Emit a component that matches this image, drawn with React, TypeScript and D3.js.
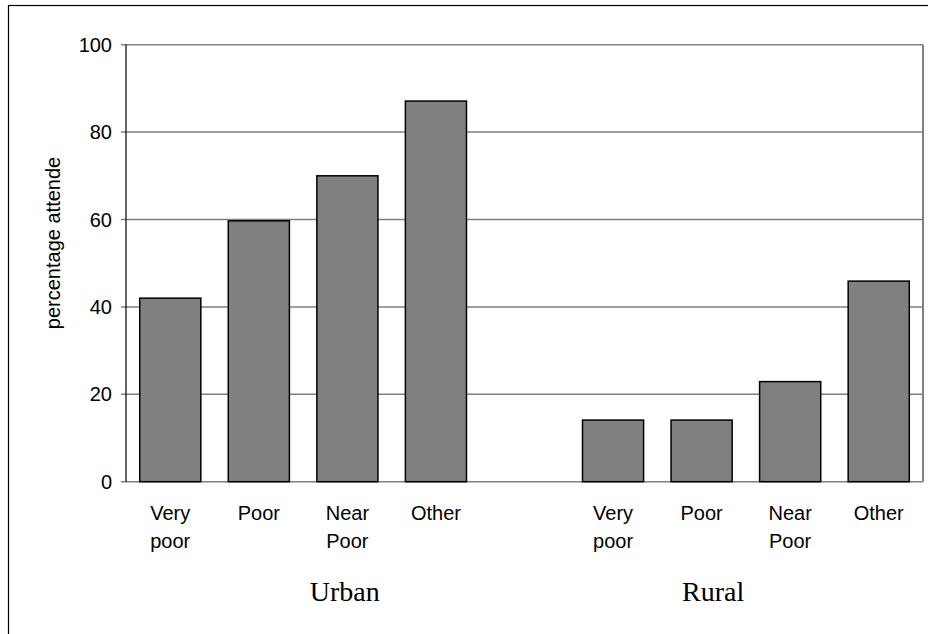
import React from "react";
import * as d3 from "d3";

const groups = ["Urban", "Rural"];
const categories = ["Very poor", "Poor", "Near Poor", "Other"];
const urbanValues = [42, 59.7, 70, 87.1];
const ruralValues = [14.1, 14.1, 22.9, 45.9];
const yTicks = [0, 20, 40, 60, 80, 100];
const yLabel = "percentage attende";
const groupLabelSlots = [2.47, 6.63];

const W = 928;
const H = 634;
const M = { left: 126, right: 5, top: 44.7, bottom: 152.3 };

type Row = { key: string; group: string; cat: string; value: number | null };

const rows: Row[] = [
  ...categories.map((c, i) => ({ key: `U-${c}`, group: groups[0], cat: c, value: urbanValues[i] })),
  { key: "gap", group: "", cat: "", value: null },
  ...categories.map((c, i) => ({ key: `R-${c}`, group: groups[1], cat: c, value: ruralValues[i] })),
];

export default function App() {
  const x = d3
    .scaleBand<string>()
    .domain(rows.map((r) => r.key))
    .range([M.left, W - M.right])
    .paddingInner(0.31)
    .paddingOuter(0.155);
  const y = d3.scaleLinear().domain([0, 100]).range([H - M.bottom, M.top]);
  const slot = d3
    .scaleLinear()
    .domain([0, rows.length])
    .range([M.left, W - M.right]);

  const sans = "'Liberation Sans', Arial, sans-serif";
  const serif = "'Liberation Serif', 'Times New Roman', serif";

  return (
    <svg
      width={W}
      height={H}
      style={{ position: "absolute", left: 0, top: 0, background: "#fff" }}
    >
      <rect x={8.5} y={5.5} width={W + 10} height={H + 10} fill="#fff" stroke="#000" strokeWidth={1.2} />
      {/* gridlines */}
      {yTicks.map((t) => (
        <g key={t}>
          <line x1={M.left - 5} x2={W - M.right} y1={y(t)} y2={y(t)} stroke="#808080" strokeWidth={1.5} />
          <text
            x={112}
            y={y(t)}
            dy="0.35em"
            textAnchor="end"
            fontFamily={sans}
            fontSize={20}
            fill="#000"
          >
            {t}
          </text>
        </g>
      ))}
      {/* right border */}
      <line x1={W - M.right} x2={W - M.right} y1={y(100)} y2={y(0)} stroke="#808080" strokeWidth={2} />
      {/* bars */}
      {rows
        .filter((r) => r.value !== null)
        .map((r) => (
          <rect
            key={r.key}
            x={x(r.key)}
            y={y(r.value as number)}
            width={x.bandwidth()}
            height={y(0) - y(r.value as number)}
            fill="#808080"
            stroke="#000"
            strokeWidth={1.5}
          />
        ))}
      {/* y axis */}
      <line x1={M.left} x2={M.left} y1={y(100)} y2={y(0)} stroke="#000" strokeWidth={1.2} />
      {/* category labels */}
      {rows
        .filter((r) => r.value !== null)
        .map((r) => {
          const cx = (x(r.key) as number) + x.bandwidth() / 2;
          const parts = r.cat.split(" ");
          return (
            <text key={r.key} x={cx} y={520} textAnchor="middle" fontFamily={sans} fontSize={20} fill="#000">
              {parts.map((p, i) => (
                <tspan key={i} x={cx} dy={i === 0 ? 0 : 28}>
                  {p}
                </tspan>
              ))}
            </text>
          );
        })}
      {/* group labels */}
      {groups.map((g, i) => (
        <text
          key={g}
          x={slot(groupLabelSlots[i])}
          y={601}
          textAnchor="middle"
          fontFamily={serif}
          fontSize={28}
          fill="#000"
        >
          {g}
        </text>
      ))}
      {/* y label */}
      <text
        transform={`translate(60, 243) rotate(-90)`}
        textAnchor="middle"
        fontFamily={sans}
        fontSize={20}
        fill="#000"
      >
        {yLabel}
      </text>
    </svg>
  );
}
